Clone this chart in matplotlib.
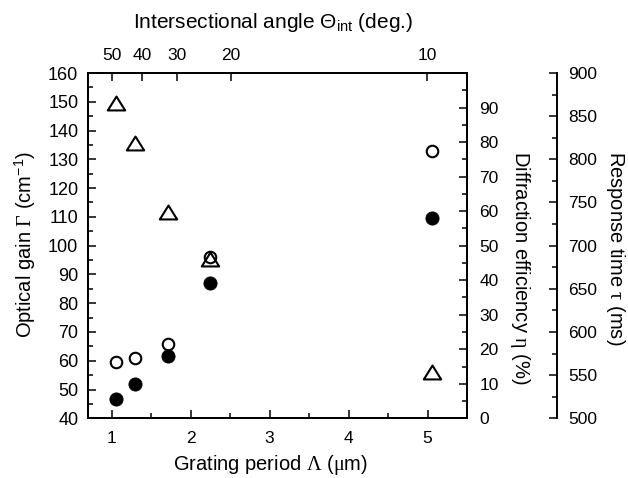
import matplotlib
matplotlib.use("Agg")
import matplotlib.pyplot as plt
from matplotlib.path import Path
from matplotlib.ticker import MultipleLocator, FixedLocator, NullLocator

plt.rcParams["font.family"] = ["Liberation Sans", "DejaVu Sans"]
plt.rcParams["mathtext.fontset"] = "custom"
plt.rcParams["mathtext.rm"] = "Liberation Serif"
plt.rcParams["mathtext.it"] = "Liberation Serif:italic"
plt.rcParams["mathtext.bf"] = "Liberation Serif:bold"
plt.rcParams["mathtext.sf"] = "Liberation Sans"

# Measured data versus grating period (um)
period = [1.056, 1.30, 1.714, 2.25, 5.06]
gain = [59.5, 61.0, 65.8, 95.9, 133.0]          # optical gain, cm^-1
efficiency = [5.5, 9.9, 18.0, 39.1, 57.9]       # diffraction efficiency, %
response = [865, 819, 739, 684, 554]            # response time, ms

# Intersectional angle scale on the top axis
angle_labels = [50, 40, 30, 20, 10]
angle_period = [1.005, 1.385, 1.83, 2.505, 4.995]

W, H = 628, 478
fig = plt.figure(figsize=(W / 100, H / 100), dpi=100)
x0, x1, y0, y1 = 88, 467, 73, 418.3
ax = fig.add_axes([x0 / W, 1 - y1 / H, (x1 - x0) / W, (y1 - y0) / H])
ax_eta = ax.twinx()
ax_tau = ax.twinx()
ax_top = ax.twiny()

spine_lw = 1.4
tick_w = 1.1
tick_fs = 12.5

# triangle a little wider than tall
tri = Path([(-1, -0.8), (1, -0.8), (0, 0.8), (-1, -0.8)],
           [Path.MOVETO, Path.LINETO, Path.LINETO, Path.CLOSEPOLY])

ax.plot(period, gain, linestyle="none", marker="o", ms=8.3, mfc="white",
        mec="black", mew=1.5, zorder=3)
ax_eta.plot(period, efficiency, linestyle="none", marker="o", ms=9.5,
            mfc="black", mec="black", mew=0.6, zorder=3)
ax_tau.plot(period, response, linestyle="none", marker=tri, ms=12.5,
            mfc="none", mec="black", mew=1.5, zorder=4)

# main axis: grating period / optical gain
ax.set_xlim(0.7, 5.5)
ax.set_ylim(40, 160)
ax.xaxis.set_major_locator(MultipleLocator(1))
ax.xaxis.set_minor_locator(MultipleLocator(0.5))
ax.yaxis.set_major_locator(MultipleLocator(10))
ax.yaxis.set_minor_locator(MultipleLocator(5))
ax.tick_params(which="both", direction="in", width=tick_w, top=False, right=False)
ax.tick_params(which="major", length=5.5)
ax.tick_params(which="minor", length=3.5)
ax.tick_params(axis="y", labelsize=13, pad=7)
ax.tick_params(axis="x", labelsize=tick_fs, pad=9)
for s in ax.spines.values():
    s.set_linewidth(spine_lw)

# diffraction efficiency on the right spine
ax_eta.set_ylim(0, 100)
ax_eta.yaxis.set_major_locator(FixedLocator(list(range(0, 100, 10))))
ax_eta.yaxis.set_minor_locator(FixedLocator(list(range(5, 100, 10))))
ax_eta.tick_params(which="both", direction="in", width=tick_w, labelsize=tick_fs, pad=9)
ax_eta.tick_params(which="major", length=5.5)
ax_eta.tick_params(which="minor", length=3.5)
for s in ax_eta.spines.values():
    s.set_linewidth(spine_lw)

# response time on an offset spine
ax_tau.set_ylim(500, 900)
ax_tau.spines["right"].set_position(("axes", (557 - x0) / (x1 - x0)))
for side in ("left", "top", "bottom"):
    ax_tau.spines[side].set_visible(False)
ax_tau.spines["right"].set_linewidth(spine_lw)
ax_tau.yaxis.set_major_locator(MultipleLocator(50))
ax_tau.yaxis.set_minor_locator(MultipleLocator(25))
ax_tau.tick_params(which="both", direction="in", width=tick_w, labelsize=tick_fs, pad=8)
ax_tau.tick_params(which="major", length=5.5)
ax_tau.tick_params(which="minor", length=3.5)

# intersectional angle on the top
ax_top.set_xlim(ax.get_xlim())
ax_top.xaxis.set_major_locator(FixedLocator(angle_period))
ax_top.xaxis.set_minor_locator(NullLocator())
ax_top.set_xticklabels([str(a) for a in angle_labels])
ax_top.tick_params(direction="in", width=tick_w, length=5.5, labelsize=tick_fs, pad=7)
for s in ax_top.spines.values():
    s.set_linewidth(spine_lw)

def ax_coords(px, py):
    return (px - x0) / (x1 - x0), (y1 - py) / (y1 - y0)

lab = 14.5
ax.set_xlabel(r"Grating period $\mathrm{\Lambda}$ ($\mathrm{\mu}$m)", fontsize=lab,
              va="center", ha="center")
ax.xaxis.set_label_coords(*ax_coords(270, 465))
ax.set_ylabel(r"Optical gain $\mathrm{\Gamma}$ (cm$^{\mathsf{-1}}$)", fontsize=lab,
              va="center", ha="center")
ax.yaxis.set_label_coords(*ax_coords(25, 245))
ax_eta.set_ylabel(r"Diffraction efficiency $\mathrm{\eta}$ (%)", fontsize=lab,
                  rotation=270, va="center", ha="center")
ax_eta.yaxis.set_label_coords(*ax_coords(520, 268))
ax_tau.set_ylabel(r"Response time $\mathrm{\tau}$ (ms)", fontsize=lab, rotation=270,
                  va="center", ha="center")
ax_tau.yaxis.set_label_coords(*ax_coords(616, 248))
ax_top.set_xlabel(r"Intersectional angle Θ$_{\mathsf{int}}$ (deg.)", fontsize=15,
                  va="center", ha="center")
ax_top.xaxis.set_label_coords(*ax_coords(273, 22))

fig.savefig("out.png", dpi=100)
